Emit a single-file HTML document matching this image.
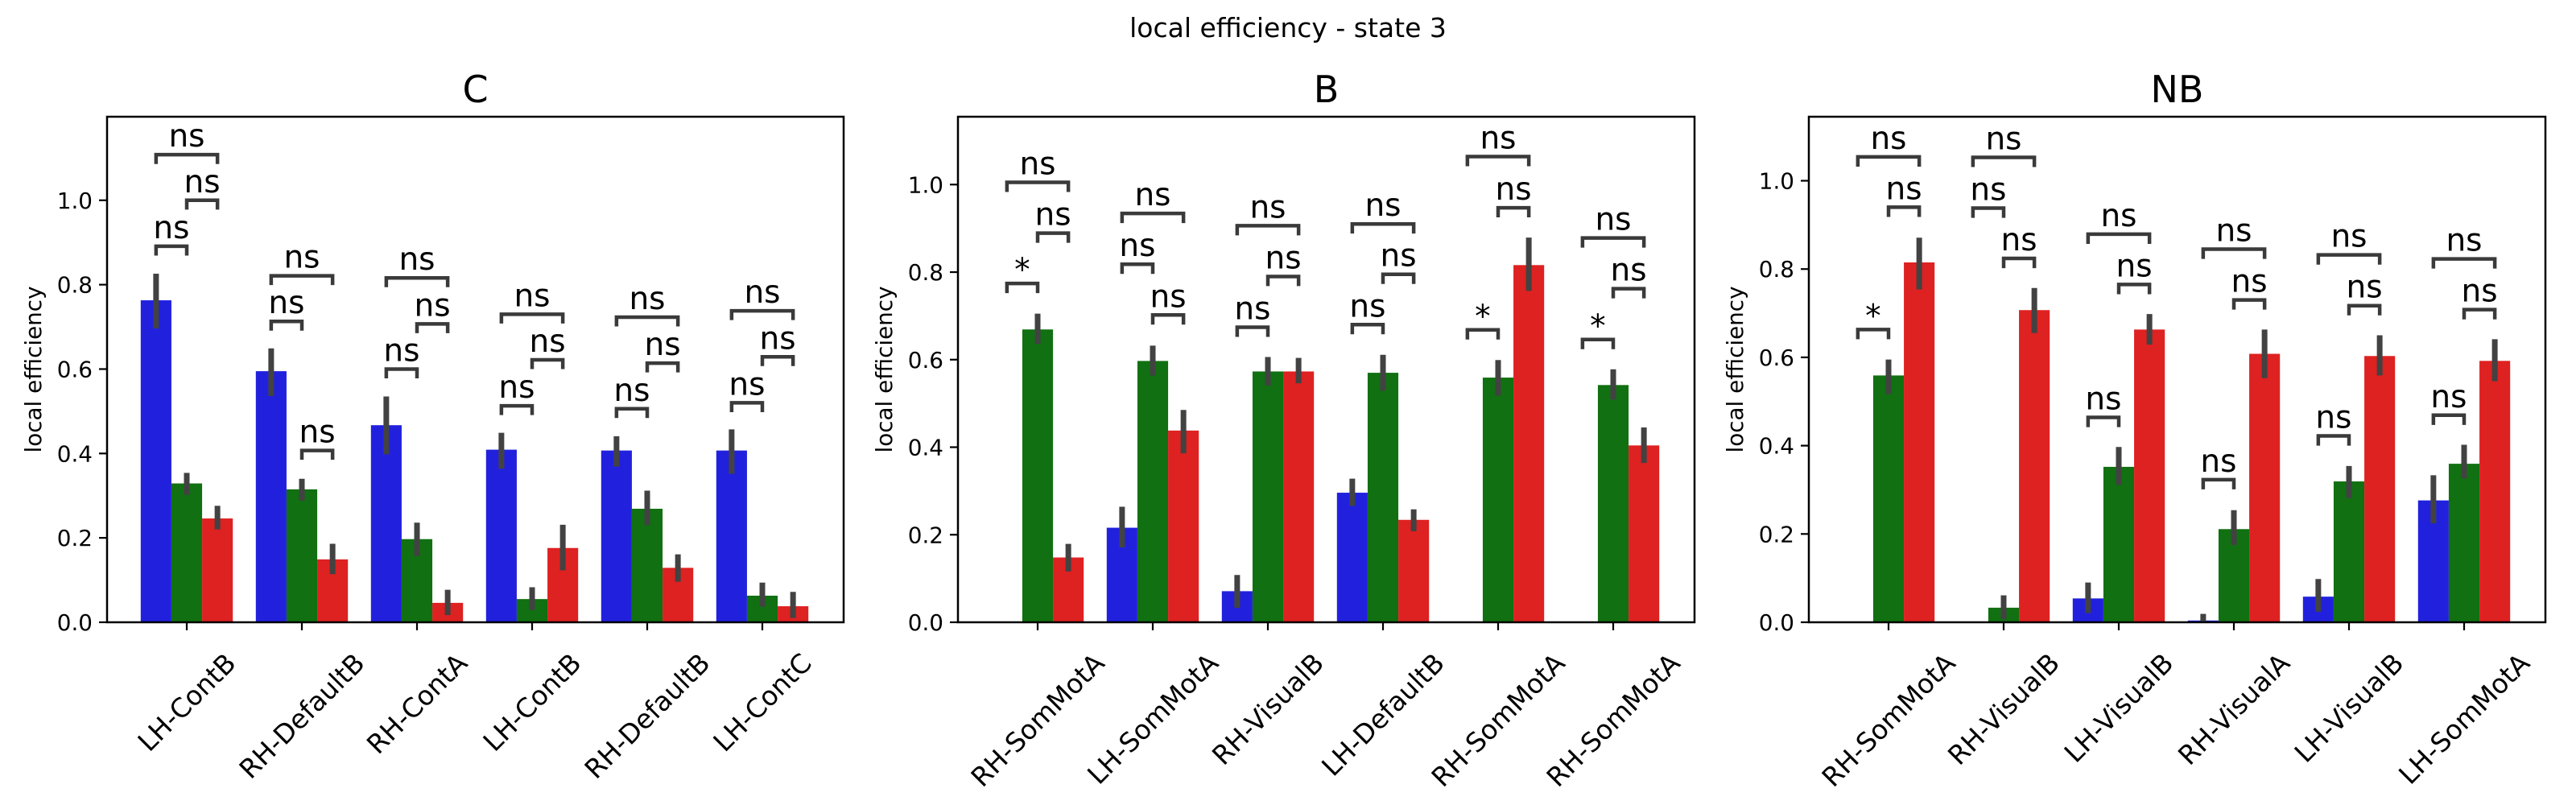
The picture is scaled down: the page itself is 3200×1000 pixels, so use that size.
<!DOCTYPE html>
<html><head><meta charset="utf-8"><style>
html,body{margin:0;padding:0;background:#fff;}
svg{display:block;font-family:"DejaVu Sans","Liberation Sans",sans-serif;}
</style></head><body>
<svg id="fig" width="3200" height="1000" viewBox="0 0 3200 1000" xmlns="http://www.w3.org/2000/svg">
<rect width="3200" height="1000" fill="#fff"/>
<text x="1600" y="46" font-size="33" text-anchor="middle">local efficiency - state 3</text>
</svg>
<script>
// ---- data ----
const panelTitles = ["C", "B", "NB"];
const categoriesC = ["LH-ContB","RH-DefaultB","RH-ContA","LH-ContB","RH-DefaultB","LH-ContC"];
const categoriesB = ["RH-SomMotA","LH-SomMotA","RH-VisualB","LH-DefaultB","RH-SomMotA","RH-SomMotA"];
const categoriesNB = ["RH-SomMotA","RH-VisualB","LH-VisualB","RH-VisualA","LH-VisualB","LH-SomMotA"];
const yTicks = [0.0, 0.2, 0.4, 0.6, 0.8, 1.0];
const yTickLabels = ["0.0","0.2","0.4","0.6","0.8","1.0"];
const yMaxC = 1.198, yMaxB = 1.155, yMaxNB = 1.145;

const blueC = [0.763,0.595,0.467,0.409,0.407,0.407];
const blueLoC = [0.696,0.536,0.398,0.364,0.369,0.352];
const blueHiC = [0.826,0.649,0.535,0.449,0.441,0.457];
const greenC = [0.329,0.315,0.197,0.055,0.269,0.063];
const greenLoC = [0.302,0.288,0.157,0.029,0.230,0.037];
const greenHiC = [0.354,0.340,0.236,0.083,0.312,0.094];
const redC = [0.246,0.149,0.046,0.176,0.129,0.038];
const redLoC = [0.220,0.114,0.017,0.123,0.096,0.010];
const redHiC = [0.276,0.186,0.077,0.231,0.161,0.072];

const blueB = [0,0.216,0.071,0.296,0,0];
const blueLoB = [null,0.171,0.033,0.266,null,null];
const blueHiB = [null,0.264,0.108,0.328,null,null];
const greenB = [0.669,0.597,0.573,0.570,0.559,0.542];
const greenLoB = [0.636,0.564,0.541,0.529,0.518,0.509];
const greenHiB = [0.705,0.632,0.606,0.611,0.599,0.578];
const redB = [0.148,0.438,0.573,0.234,0.816,0.404];
const redLoB = [0.116,0.386,0.546,0.208,0.757,0.364];
const redHiB = [0.179,0.485,0.604,0.258,0.879,0.445];

const blueNB = [0,0,0.054,0.004,0.058,0.276];
const blueLoNB = [null,null,0.021,0.0,0.024,0.224];
const blueHiNB = [null,null,0.090,0.019,0.098,0.333];
const greenNB = [0.559,0.033,0.352,0.211,0.319,0.359];
const greenLoNB = [0.517,0.007,0.311,0.175,0.281,0.326];
const greenHiNB = [0.595,0.061,0.397,0.254,0.354,0.402];
const redNB = [0.815,0.707,0.663,0.608,0.603,0.592];
const redLoNB = [0.754,0.655,0.629,0.553,0.559,0.546];
const redHiNB = [0.871,0.757,0.698,0.663,0.650,0.641];

// significance brackets: blue-green, green-red, blue-red heights and labels
const bgC = [0.891,0.713,0.600,0.513,0.506,0.520];
const grC = [1.000,0.407,0.707,0.622,0.614,0.629];
const brC = [1.108,0.821,0.816,0.730,0.723,0.738];
const bgLabC = ["ns","ns","ns","ns","ns","ns"];
const grLabC = ["ns","ns","ns","ns","ns","ns"];
const brLabC = ["ns","ns","ns","ns","ns","ns"];

const bgB = [0.774,0.818,0.674,0.680,0.668,0.646];
const grB = [0.889,0.702,0.790,0.795,0.947,0.762];
const brB = [1.005,0.934,0.906,0.910,1.064,0.878];
const bgLabB = ["*","ns","ns","ns","*","*"];
const grLabB = ["ns","ns","ns","ns","ns","ns"];
const brLabB = ["ns","ns","ns","ns","ns","ns"];

const bgNB = [0.663,0.938,0.464,0.323,0.422,0.469];
const grNB = [0.940,0.824,0.765,0.730,0.717,0.708];
const brNB = [1.054,1.053,0.879,0.845,0.832,0.823];
const bgLabNB = ["*","ns","ns","ns","ns","ns"];
const grLabNB = ["ns","ns","ns","ns","ns","ns"];
const brLabNB = ["ns","ns","ns","ns","ns","ns"];

// ---- drawing ----
const NS = "http://www.w3.org/2000/svg";
const svg = document.getElementById("fig");
function mk(tag, attrs, parent){
  const e = document.createElementNS(NS, tag);
  for (const k in attrs) e.setAttribute(k, attrs[k]);
  (parent||svg).appendChild(e);
  return e;
}
const COLORS = ["#2121dd","#117011","#de2121"];
const AX_TOP = 145, AX_BOT = 773, AX_W = 915, STEP = 143, OFF = 99;
const panels = [
  {left:133, title:panelTitles[0], cats:categoriesC, ymax:yMaxC,
   vals:[blueC,greenC,redC], lo:[blueLoC,greenLoC,redLoC], hi:[blueHiC,greenHiC,redHiC],
   bg:bgC, gr:grC, br:brC, bgL:bgLabC, grL:grLabC, brL:brLabC, name:"c"},
  {left:1190, title:panelTitles[1], cats:categoriesB, ymax:yMaxB,
   vals:[blueB,greenB,redB], lo:[blueLoB,greenLoB,redLoB], hi:[blueHiB,greenHiB,redHiB],
   bg:bgB, gr:grB, br:brB, bgL:bgLabB, grL:grLabB, brL:brLabB, name:"b"},
  {left:2247, title:panelTitles[2], cats:categoriesNB, ymax:yMaxNB,
   vals:[blueNB,greenNB,redNB], lo:[blueLoNB,greenLoNB,redLoNB], hi:[blueHiNB,greenHiNB,redHiNB],
   bg:bgNB, gr:grNB, br:brNB, bgL:bgLabNB, grL:grLabNB, brL:brLabNB, name:"nb"}
];
const seriesNames = ["blue","green","red"];

panels.forEach(p => {
  const g = mk("g", {});
  
  
  const yS = v => AX_BOT - v / p.ymax * (AX_BOT - AX_TOP);
  const xC = i => p.left + OFF + i * STEP;
  const bw = STEP * 0.8 / 3;
  const barX = (i, s) => xC(i) + (s - 1) * bw;

  const t = mk("text", {x: p.left + AX_W/2, y: 127, "font-size": 46, "text-anchor": "middle"}, g);
  t.textContent = p.title;
  
  

  for (let s = 0; s < 3; s++) {
    for (let i = 0; i < 6; i++) {
      const v = p.vals[s][i];
      if (v > 0) {
        const r = mk("rect", {x: barX(i,s) - bw/2, y: yS(v), width: bw, height: yS(0) - yS(v), fill: COLORS[s]}, g);
        
        
      }
    }
  }
  for (let s = 0; s < 3; s++) {
    for (let i = 0; i < 6; i++) {
      if (p.lo[s][i] === null) continue;
      const l = mk("line", {x1: barX(i,s), x2: barX(i,s), y1: yS(p.lo[s][i]), y2: yS(p.hi[s][i]), stroke: "#424242", "stroke-width": 7}, g);
      
      
    }
  }
  const LEG = (AX_BOT - AX_TOP) / p.ymax * 0.022;
  function bracket(x1, x2, v, lab, nm){
    const y = yS(v);
    const pth = mk("path", {d: `M${x1},${y+LEG} L${x1},${y} L${x2},${y} L${x2},${y+LEG}`, fill: "none", stroke: "#3a3a3a", "stroke-width": 4.5}, g);
    
    
    const tx = mk("text", {x: (x1+x2)/2, y: lab === "*" ? y - 4 : y - 10, "font-size": 39, "text-anchor": "middle", fill: "#000"}, g);
    tx.textContent = lab;
    
    
  }
  for (let i = 0; i < 6; i++) {
    bracket(barX(i,0), barX(i,1), p.bg[i], p.bgL[i], 'blue-green-' + (i+1));
    bracket(barX(i,1), barX(i,2), p.gr[i], p.grL[i], 'green-red-' + (i+1));
    bracket(barX(i,0), barX(i,2), p.br[i], p.brL[i], 'blue-red-' + (i+1));
  }
  const fr = mk("rect", {x: p.left, y: AX_TOP, width: AX_W, height: AX_BOT - AX_TOP, fill: "none", stroke: "#000", "stroke-width": 2.5}, g);
  
  
  yTicks.forEach((v, k) => {
    const y = yS(v);
    const tl = mk("line", {x1: p.left - 10, x2: p.left, y1: y, y2: y, stroke: "#000", "stroke-width": 2.2}, g);
    
    
    const tt = mk("text", {x: p.left - 18, y: y + 10, "font-size": 27.8, "text-anchor": "end"}, g);
    tt.textContent = yTickLabels[k];
    
    
  });
  const yl = mk("text", {x: 0, y: 0, "font-size": 27.8, "text-anchor": "middle", transform: `translate(${p.left - 82},${(AX_TOP+AX_BOT)/2}) rotate(-90)`}, g);
  yl.textContent = "local efficiency";
  
  
  p.cats.forEach((c, i) => {
    const x = xC(i);
    const tl = mk("line", {x1: x, x2: x, y1: AX_BOT, y2: AX_BOT + 10, stroke: "#000", "stroke-width": 2.2}, g);
    
    
    const tt = mk("text", {x: 0, y: 0, "font-size": 33, "text-anchor": "middle", "dominant-baseline": "central"}, g);
    tt.textContent = c;
    
    
    const L = tt.getComputedTextLength();
    const h = 33;
    const half = (L + h) * 0.7071 / 2;
    tt.setAttribute("transform", `translate(${x},${806 + half}) rotate(-45)`);
  });
});
</script>
</body></html>
